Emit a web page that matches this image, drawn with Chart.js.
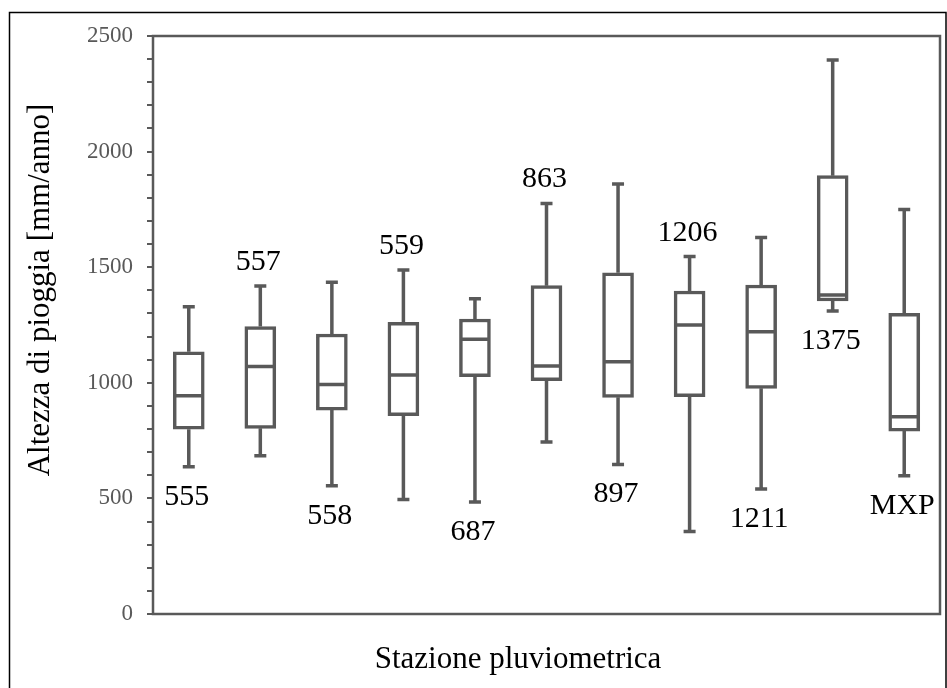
<!DOCTYPE html>
<html>
<head>
<meta charset="utf-8">
<title>Altezza di pioggia per stazione</title>
<script src="https://cdn.jsdelivr.net/npm/chart.js@4/dist/chart.umd.min.js"></script>
<style>
  html, body { margin: 0; padding: 0; background: #ffffff; }
  canvas { display: block; }
</style>
</head>
<body>
<canvas id="chart" width="947" height="688"></canvas>
<script>
// Stazioni pluviometriche e statistiche annue (mm/anno)
const stations = ['555', '557', '558', '559', '687', '863', '897', '1206', '1211', '1375', 'MXP'];
const minVals  = [637, 685, 555, 495, 484, 744, 647, 357, 541, 1311, 598];
const q1Vals   = [799, 803, 882, 858, 1026, 1009, 937, 940, 976, 1354, 791];
const medVals  = [944, 1070, 993, 1034, 1188, 1073, 1091, 1250, 1221, 1380, 853];
const q3Vals   = [1134, 1243, 1211, 1262, 1276, 1420, 1476, 1397, 1423, 1896, 1301];
const maxVals  = [1329, 1419, 1435, 1488, 1364, 1776, 1860, 1546, 1629, 2396, 1750];
// where each station name sits: above the upper whisker or below the lower one
const labelSide = ['below', 'above', 'below', 'above', 'below', 'above', 'below', 'above', 'below', 'below', 'below'];
const yTicksMajor = [0, 500, 1000, 1500, 2000, 2500];

const GREY = '#595959';
const SERIF = '"Liberation Serif", "Times New Roman", serif';

// whiskers, medians, frame, titles and station names
const boxExtras = {
  id: 'boxExtras',
  beforeDraw(chart) {
    const ctx = chart.ctx;
    ctx.save();
    ctx.fillStyle = '#ffffff';
    ctx.fillRect(0, 0, chart.width, chart.height);
    ctx.strokeStyle = '#000000';
    ctx.lineWidth = 1.5;
    ctx.strokeRect(9.5, 12.5, 936.5, 690);
    ctx.restore();
  },
  afterDatasetsDraw(chart) {
    const ctx = chart.ctx;
    const x = chart.scales.x, y = chart.scales.y;
    const area = chart.chartArea;
    ctx.save();
    ctx.strokeStyle = GREY;
    ctx.lineWidth = 3.5;
    ctx.lineCap = 'butt';
    const half = 15, cap = 6;
    stations.forEach((s, i) => {
      const cx = x.getPixelForValue(i);
      const yMin = y.getPixelForValue(minVals[i]);
      const yQ1 = y.getPixelForValue(q1Vals[i]);
      const yMed = y.getPixelForValue(medVals[i]);
      const yQ3 = y.getPixelForValue(q3Vals[i]);
      const yMax = y.getPixelForValue(maxVals[i]);
      ctx.beginPath();
      ctx.moveTo(cx, yQ1); ctx.lineTo(cx, yMin);
      ctx.moveTo(cx - cap, yMin); ctx.lineTo(cx + cap, yMin);
      ctx.moveTo(cx, yQ3); ctx.lineTo(cx, yMax);
      ctx.moveTo(cx - cap, yMax); ctx.lineTo(cx + cap, yMax);
      ctx.moveTo(cx - half + 2, yMed); ctx.lineTo(cx + half - 2, yMed);
      ctx.stroke();
    });

    // plot frame
    ctx.lineWidth = 2.5;
    ctx.strokeRect(area.left, area.top, area.right - area.left, area.bottom - area.top);

    // station names
    ctx.fillStyle = '#000000';
    ctx.font = '30px ' + SERIF;
    ctx.textAlign = 'center';
    ctx.textBaseline = 'alphabetic';
    stations.forEach((s, i) => {
      const cx = x.getPixelForValue(i) - 2;
      const ty = labelSide[i] === 'above'
        ? y.getPixelForValue(maxVals[i]) - 16
        : y.getPixelForValue(minVals[i]) + 38;
      ctx.fillText(s, cx, ty);
    });

    // axis titles
    ctx.font = '31px ' + SERIF;
    ctx.fillText('Stazione pluviometrica', 518, 668);
    ctx.translate(49, 290);
    ctx.rotate(-Math.PI / 2);
    ctx.fillText('Altezza di pioggia [mm/anno]', 0, 0);
    ctx.restore();
  }
};

new Chart(document.getElementById('chart'), {
  type: 'bar',
  data: {
    labels: stations,
    datasets: [{
      label: 'Interquartile',
      data: stations.map((s, i) => [q1Vals[i], q3Vals[i]]),
      backgroundColor: '#ffffff',
      borderColor: GREY,
      borderWidth: 3.5,
      borderSkipped: false,
      barThickness: 31
    }]
  },
  options: {
    responsive: false,
    animation: false,
    events: [],
    layout: { padding: { left: 10, top: 36, right: 7, bottom: 74 } },
    plugins: {
      legend: { display: false },
      tooltip: { enabled: false },
      title: { display: false }
    },
    scales: {
      x: {
        display: false,
        offset: true
      },
      y: {
        min: 0,
        max: 2500,
        afterFit(scale) { scale.width = 143; },
        border: { display: false },
        grid: {
          drawOnChartArea: false,
          drawTicks: true,
          tickLength: 6,
          color: GREY,
          lineWidth: 2
        },
        ticks: {
          stepSize: 100,
          autoSkip: false,
          padding: 14,
          color: GREY,
          font: { family: SERIF, size: 23 },
          callback: v => (yTicksMajor.includes(v) ? String(v) : '')
        }
      }
    }
  },
  plugins: [boxExtras]
});
</script>
</body>
</html>
